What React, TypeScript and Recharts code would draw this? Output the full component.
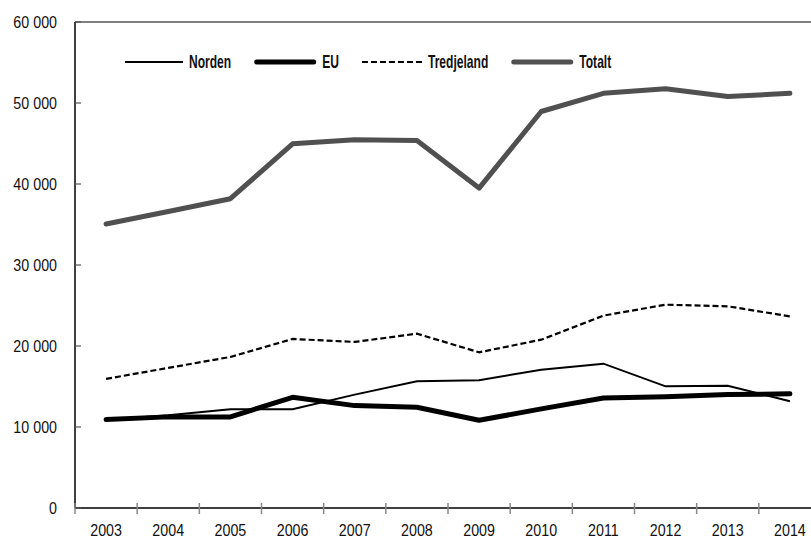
import React from 'react';
import { LineChart, Line, XAxis, YAxis, ReferenceLine, Legend } from 'recharts';

const years = [2003, 2004, 2005, 2006, 2007, 2008, 2009, 2010, 2011, 2012, 2013, 2014];
const norden = [10900, 11450, 12200, 12200, 14000, 15640, 15770, 17080, 17820, 15020, 15100, 13170];
const eu = [10920, 11250, 11250, 13670, 12640, 12430, 10830, 12240, 13590, 13720, 14000, 14090];
const tredjeland = [15940, 17300, 18650, 20870, 20500, 21520, 19220, 20780, 23750, 25100, 24900, 23660];
const totalt = [35060, 36600, 38180, 44960, 45450, 45370, 39500, 48950, 51200, 51750, 50800, 51200];

const seriesNames = ['Norden', 'EU', 'Tredjeland', 'Totalt'];
const yTicks = [0, 10000, 20000, 30000, 40000, 50000, 60000];
const xBoundaries = [2002.5, 2003.5, 2004.5, 2005.5, 2006.5, 2007.5, 2008.5, 2009.5, 2010.5, 2011.5, 2012.5, 2013.5, 2014.5];

const data = years.map((year, i) => ({
  year,
  Norden: norden[i],
  EU: eu[i],
  Tredjeland: tredjeland[i],
  Totalt: totalt[i],
}));

const FONT = "'Liberation Sans', Arial, sans-serif";
const AXIS_SCALE = 0.84;
const LEGEND_SCALE = 0.67;
const LEGEND_SIZE = 18;

const xTickValues = [...xBoundaries, ...years].sort((a, b) => a - b);

const formatThousands = (v: number) => String(v).replace(/\B(?=(\d{3})+(?!\d))/g, ' ');

let measureCtx: CanvasRenderingContext2D | null = null;
const measureText = (text: string, font: string) => {
  if (!measureCtx) {
    const c = document.createElement('canvas');
    measureCtx = c.getContext('2d');
  }
  if (!measureCtx) return text.length * 9;
  measureCtx.font = font;
  return measureCtx.measureText(text).width;
};

const YTick = (props: any) => {
  const { x, y, payload } = props;
  return (
    <g>
      <line x1={x} x2={x + 6} y1={y} y2={y} stroke="#555" strokeWidth={1.2} />
      <text
        transform={`translate(${x - 18},${y + 6.2}) scale(${AXIS_SCALE},1)`}
        textAnchor="end"
        fontFamily={FONT}
        fontSize={17}
        fill="#111"
      >
        {formatThousands(payload.value)}
      </text>
    </g>
  );
};

const XTick = (props: any) => {
  const { x, y, payload } = props;
  const v = payload.value;
  if (Number.isInteger(v)) {
    return (
      <text
        transform={`translate(${x},${y + 28}) scale(${AXIS_SCALE},1)`}
        textAnchor="middle"
        fontFamily={FONT}
        fontSize={17}
        fill="#111"
      >
        {String(v)}
      </text>
    );
  }
  return <line x1={x} x2={x} y1={y - 5} y2={y + 6} stroke="#888" strokeWidth={1.5} />;
};

const legendStyles: Record<string, { stroke: string; width: number; dash?: string; len: number }> = {
  Norden: { stroke: '#000', width: 2, len: 58 },
  EU: { stroke: '#000', width: 5, len: 62 },
  Tredjeland: { stroke: '#000', width: 2.2, dash: '6 3', len: 60 },
  Totalt: { stroke: '#505050', width: 5, len: 62 },
};

const LegendContent = () => {
  const font = `bold ${LEGEND_SIZE}px 'Liberation Sans', Arial, sans-serif`;
  let cursor = 0;
  const items = seriesNames.map((name) => {
    const st = legendStyles[name];
    const round = st.width > 3;
    const lineStart = cursor;
    const lineEnd = cursor + st.len;
    const textX = lineEnd + 6;
    const tw = measureText(name, font) * LEGEND_SCALE;
    cursor = textX + tw + 23;
    return (
      <g key={name}>
        <line
          x1={round ? lineStart + 2.5 : lineStart}
          x2={round ? lineEnd - 2.5 : lineEnd}
          y1={10}
          y2={10}
          stroke={st.stroke}
          strokeWidth={st.width}
          strokeDasharray={st.dash}
          strokeLinecap={round ? 'round' : 'butt'}
        />
        <text
          transform={`translate(${textX},16.4) scale(${LEGEND_SCALE},1)`}
          fontFamily={FONT}
          fontWeight="bold"
          fontSize={LEGEND_SIZE}
          fill="#111"
        >
          {name}
        </text>
      </g>
    );
  });
  return (
    <svg width={Math.ceil(cursor)} height={22} style={{ display: 'block' }}>
      {items}
    </svg>
  );
};

export default function App() {
  return (
    <div style={{ position: 'absolute', left: 0, top: 0, width: 811, height: 538, overflow: 'hidden', background: '#fff' }}>
      <LineChart width={821} height={538} data={data} margin={{ top: 22, right: 0, bottom: 0, left: 0 }}>
        <XAxis
          dataKey="year"
          type="number"
          domain={[2002.5, 2014.5]}
          ticks={xTickValues}
          interval={0}
          height={30}
          tickSize={0}
          tickMargin={0}
          tickLine={false}
          axisLine={{ stroke: '#000', strokeWidth: 1.5 }}
          tick={<XTick />}
        />
        <YAxis
          type="number"
          domain={[0, 60000]}
          ticks={yTicks}
          interval={0}
          width={75}
          tickSize={0}
          tickMargin={0}
          tickLine={false}
          axisLine={{ stroke: '#000', strokeWidth: 1.5 }}
          tick={<YTick />}
        />
        <ReferenceLine y={60000} stroke="#000" strokeWidth={1.2} />
        <Legend
          verticalAlign="middle"
          layout="horizontal"
          content={<LegendContent />}
          wrapperStyle={{ position: 'absolute', top: 52.3, left: 125, width: 'auto' }}
        />
        <Line type="linear" dataKey="Totalt" stroke="#505050" strokeWidth={5} dot={false} isAnimationActive={false} strokeLinejoin="round" strokeLinecap="round" />
        <Line type="linear" dataKey="Tredjeland" stroke="#000" strokeWidth={2.2} strokeDasharray="6 3" dot={false} isAnimationActive={false} />
        <Line type="linear" dataKey="Norden" stroke="#000" strokeWidth={2} dot={false} isAnimationActive={false} />
        <Line type="linear" dataKey="EU" stroke="#000" strokeWidth={5} dot={false} isAnimationActive={false} strokeLinejoin="round" strokeLinecap="round" />
      </LineChart>
    </div>
  );
}
